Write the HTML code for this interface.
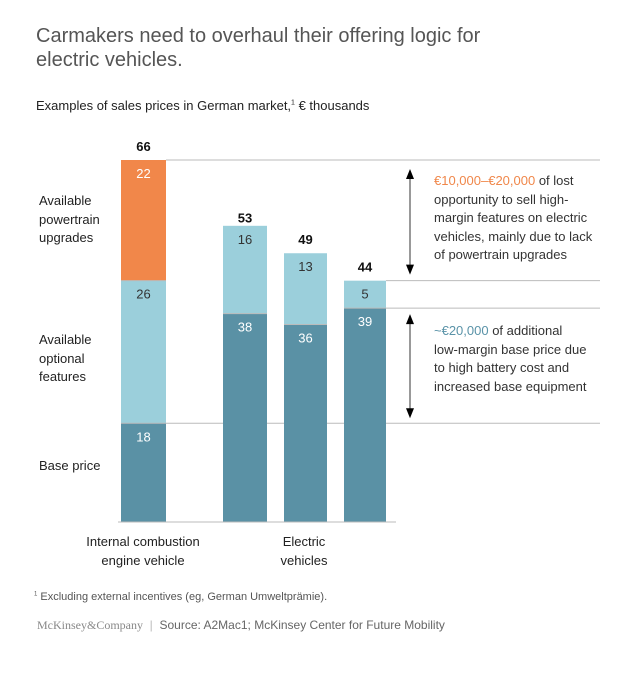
<!DOCTYPE html>
<html><head><meta charset="utf-8"><style>
body{margin:0;background:#fff;font-family:"Liberation Sans",sans-serif;}
#c{position:relative;width:640px;height:676px;overflow:hidden}
.t{position:absolute;white-space:nowrap}
</style></head><body>
<div id="c">
<div class="t" style="left:36px;top:24px;font-size:20px;line-height:24px;color:#555">Carmakers need to overhaul their offering logic for<br>electric vehicles.</div>
<div class="t" style="left:36px;top:98px;font-size:13px;color:#222">Examples of sales prices in German market,<sup style="font-size:7px">1</sup> € thousands</div>
<div class="t" style="left:39px;top:192px;font-size:13px;line-height:18.5px;color:#222">Available<br>powertrain<br>upgrades</div>
<div class="t" style="left:39px;top:331px;font-size:13px;line-height:18.5px;color:#222">Available<br>optional<br>features</div>
<div class="t" style="left:39px;top:458px;font-size:13px;color:#222">Base price</div>
<div class="t" style="left:143px;top:532px;transform:translateX(-50%);text-align:center;font-size:13px;line-height:19px;color:#222">Internal combustion<br>engine vehicle</div>
<div class="t" style="left:304px;top:532px;transform:translateX(-50%);text-align:center;font-size:13px;line-height:19px;color:#222">Electric<br>vehicles</div>
<div class="t" style="left:434px;top:172px;font-size:13px;line-height:18.5px;color:#333"><span style="color:#f0874a">€10,000–€20,000</span> of lost<br>opportunity to sell high-<br>margin features on electric<br>vehicles, mainly due to lack<br>of powertrain upgrades</div>
<div class="t" style="left:434px;top:322px;font-size:13px;line-height:18.5px;color:#333"><span style="color:#5a93a8">~€20,000</span> of additional<br>low-margin base price due<br>to high battery cost and<br>increased base equipment</div>
<div class="t" style="left:34px;top:591px;font-size:11px;color:#555"><sup style="font-size:6px">1</sup> Excluding external incentives (eg, German Umweltprämie).</div>
<div class="t" style="left:37px;top:618px;font-size:12px;color:#666"><span style="font-family:'Liberation Serif',serif;color:#888">McKinsey&amp;Company</span> <span style="color:#bbb">&nbsp;|&nbsp;</span> Source: A2Mac1; McKinsey Center for Future Mobility</div>
<svg id="s" width="640" height="676" style="position:absolute;left:0;top:0"></svg>
</div>
<script>
const categories=["ICE","EV1","EV2","EV3"];
const baseVals=[18,38,36,39];
const optVals=[26,16,13,5];
const ptVals=[22,0,0,0];
const totals=[66,53,49,44];
const xLeft=[121,223,284,344], bw=[45,44,43,42];
const y0=522, k=362/66;
const y=v=>y0-v*k;
const s=document.getElementById('s');
const NS='http://www.w3.org/2000/svg';
function mk(t,a){const e=document.createElementNS(NS,t);for(const q in a)e.setAttribute(q,a[q]);s.appendChild(e);return e;}
function ln(x1,y1,x2,y2,n){const e=mk('line',{x1,y1,x2,y2,stroke:'#bbb','stroke-width':1});

}
ln(166,y(totals[0]),600,y(totals[0]),'ref-line-ice-total');
ln(386,y(totals[3]),600,y(totals[3]),'ref-line-ev-total');
ln(386,y(baseVals[3]),600,y(baseVals[3]),'ref-line-ev-base');
ln(121,y(baseVals[0]),600,y(baseVals[0]),'ref-line-ice-base');
const cols=['#5a91a5','#9bcfdb','#f1874a'];
categories.forEach((c,i)=>{
  const segs=[baseVals[i],optVals[i],ptVals[i]];let acc=0;
  segs.forEach((v,j)=>{ if(!v)return;
    const r=mk('rect',{x:xLeft[i],y:y(acc+v),width:bw[i],height:v*k,fill:cols[j]});
    
    
    if(j>0){ln(xLeft[i],y(acc),xLeft[i]+bw[i],y(acc),'seg-divider');}
    const t=mk('text',{x:xLeft[i]+bw[i]/2,y:y(acc+v)+18,'text-anchor':'middle','font-size':13,fill:j==1?'#333':'#fff','font-family':'Liberation Sans, sans-serif'});
    t.textContent=v;
    
    
    acc+=v;});
  const t=mk('text',{x:xLeft[i]+bw[i]/2,y:y(totals[i])-9,'text-anchor':'middle','font-size':13,'font-weight':'bold',fill:'#111','font-family':'Liberation Sans, sans-serif'});
  t.textContent=totals[i];
  
  
});
ln(118,y0,396,y0,'x-axis');
function arrow(ya,yb,n){const g=mk('g',{});


const l=document.createElementNS(NS,'line');l.setAttribute('x1',410);l.setAttribute('x2',410);l.setAttribute('y1',ya+6);l.setAttribute('y2',yb-6);l.setAttribute('stroke','#333');g.appendChild(l);
[[ya,1],[yb,-1]].forEach(([yy,d])=>{const p=document.createElementNS(NS,'path');p.setAttribute('d',`M410 ${yy} L406 ${yy+10*d} L414 ${yy+10*d}Z`);p.setAttribute('fill','#000');g.appendChild(p);});}
arrow(y(totals[0])+9,y(totals[3])-6,'arrow-lost');
arrow(y(baseVals[3])+6,y(baseVals[0])-5,'arrow-base');
</script>
</body></html>
